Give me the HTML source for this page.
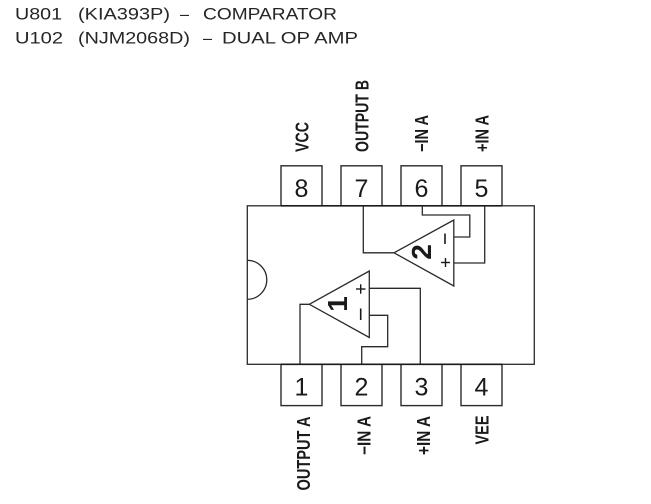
<!DOCTYPE html>
<html>
<head>
<meta charset="utf-8">
<style>
  html, body { margin: 0; padding: 0; background: #ffffff; }
  body { width: 651px; height: 504px; overflow: hidden; }
  svg { display: block; }
  .hdr { font-family: "Liberation Sans", "Noto Sans CJK KR", sans-serif; font-size: 17px; fill: #262626; }
  .lbl { font-family: "Liberation Sans", sans-serif; font-size: 18px; font-weight: bold; fill: #1a1a1a; }
  .num { font-family: "Liberation Sans", sans-serif; font-size: 25px; fill: #1a1a1a; text-anchor: middle; }
  .ln { fill: none; stroke: #2a2a2a; stroke-width: 1.3; }
  .box { fill: #fff; stroke: #2a2a2a; stroke-width: 1.4; }
</style>
</head>
<body>
<svg width="651" height="504" viewBox="0 0 651 504" xmlns="http://www.w3.org/2000/svg">
  <!-- Header -->
  <text class="hdr" x="15" y="19.3" textLength="47" lengthAdjust="spacingAndGlyphs">U801</text>
  <text class="hdr" x="78" y="19.3" textLength="92" lengthAdjust="spacingAndGlyphs">(KIA393P)</text>
  <text class="hdr" x="180" y="19.3" textLength="9" lengthAdjust="spacingAndGlyphs">–</text>
  <text class="hdr" x="203" y="19.3" textLength="134" lengthAdjust="spacingAndGlyphs">COMPARATOR</text>

  <text class="hdr" x="15" y="43.4" textLength="48" lengthAdjust="spacingAndGlyphs">U102</text>
  <text class="hdr" x="78" y="43.4" textLength="112" lengthAdjust="spacingAndGlyphs">(NJM2068D)</text>
  <text class="hdr" x="203" y="43.4" textLength="9" lengthAdjust="spacingAndGlyphs">–</text>
  <text class="hdr" x="222" y="43.4" textLength="136" lengthAdjust="spacingAndGlyphs">DUAL OP AMP</text>

  <!-- IC body -->
  <rect class="ln" x="247.3" y="205.8" width="287" height="158.5"/>
  <!-- notch -->
  <path class="ln" d="M247.3,260.3 A19.5,19.5 0 0 1 247.3,299.3"/>

  <!-- top pin boxes -->
  <rect class="box" x="281" y="165.8" width="41" height="40"/>
  <rect class="box" x="341" y="165.8" width="41" height="40"/>
  <rect class="box" x="401" y="165.8" width="41" height="40"/>
  <rect class="box" x="461" y="165.8" width="41" height="40"/>
  <!-- bottom pin boxes -->
  <rect class="box" x="281" y="364.3" width="41" height="41.3"/>
  <rect class="box" x="341" y="364.3" width="41" height="41.3"/>
  <rect class="box" x="401" y="364.3" width="41" height="41.3"/>
  <rect class="box" x="461" y="364.3" width="41" height="41.3"/>
  <!-- thicker edges where boxes meet body -->
  <line x1="281" y1="205.8" x2="502" y2="205.8" stroke="#1a1a1a" stroke-width="1.6"/>
  <line x1="281" y1="364.3" x2="502" y2="364.3" stroke="#1a1a1a" stroke-width="1.6"/>

  <!-- pin numbers -->
  <text class="num" x="301.5" y="197">8</text>
  <text class="num" x="361.5" y="197">7</text>
  <text class="num" x="421.5" y="197">6</text>
  <text class="num" x="481.5" y="197">5</text>
  <text class="num" x="301.5" y="395.5">1</text>
  <text class="num" x="361.5" y="395.5">2</text>
  <text class="num" x="421.5" y="395.5">3</text>
  <text class="num" x="481.5" y="395.5">4</text>

  <!-- top labels (rotated) -->
  <text class="lbl" transform="translate(308.5,152) rotate(-90)" textLength="30" lengthAdjust="spacingAndGlyphs">VCC</text>
  <text class="lbl" transform="translate(368.5,152) rotate(-90)" textLength="72" lengthAdjust="spacingAndGlyphs">OUTPUT B</text>
  <text class="lbl" transform="translate(428,152) rotate(-90)" textLength="37" lengthAdjust="spacingAndGlyphs">−IN A</text>
  <text class="lbl" transform="translate(488.5,152) rotate(-90)" textLength="37" lengthAdjust="spacingAndGlyphs">+IN A</text>

  <!-- bottom labels (rotated) -->
  <text class="lbl" transform="translate(310,490.5) rotate(-90)" textLength="74" lengthAdjust="spacingAndGlyphs">OUTPUT A</text>
  <text class="lbl" transform="translate(370.5,455) rotate(-90)" textLength="39" lengthAdjust="spacingAndGlyphs">−IN A</text>
  <text class="lbl" transform="translate(430,455) rotate(-90)" textLength="39" lengthAdjust="spacingAndGlyphs">+IN A</text>
  <text class="lbl" transform="translate(488.5,444.5) rotate(-90)" textLength="29" lengthAdjust="spacingAndGlyphs">VEE</text>

  <!-- Op amp 2 -->
  <polygon class="ln" points="394,252.8 453.8,220 453.8,286"/>
  <polyline class="ln" points="363.3,205.8 363.3,252.8 394,252.8"/>
  <polyline class="ln" points="453.8,237 469.8,237 469.8,215 422.3,215 422.3,205.8"/>
  <polyline class="ln" points="453.8,263 484.7,263 484.7,205.8"/>
  <!-- minus (rotated) -->
  <line x1="445" y1="233.5" x2="445" y2="244" stroke="#1a1a1a" stroke-width="1.6"/>
  <!-- plus -->
  <line x1="441" y1="262.5" x2="450" y2="262.5" stroke="#1a1a1a" stroke-width="1.4"/>
  <line x1="445.5" y1="258" x2="445.5" y2="267" stroke="#1a1a1a" stroke-width="1.4"/>
  <text transform="translate(421.5,252) rotate(-90)" text-anchor="middle" dominant-baseline="central" font-family="Liberation Sans, sans-serif" font-size="28" font-weight="bold" fill="#1a1a1a">2</text>

  <!-- Op amp 1 -->
  <polygon class="ln" points="309.3,304.3 369.3,271 369.3,337.5"/>
  <polyline class="ln" points="309.3,304.3 300,304.3 300,364.3"/>
  <polyline class="ln" points="369.3,288.3 420.3,288.3 420.3,364.3"/>
  <polyline class="ln" points="369.3,315.3 387.7,315.3 387.7,346.7 361.7,346.7 361.7,364.3"/>
  <!-- plus -->
  <line x1="356" y1="289" x2="365.5" y2="289" stroke="#1a1a1a" stroke-width="1.4"/>
  <line x1="360.7" y1="284.3" x2="360.7" y2="293.7" stroke="#1a1a1a" stroke-width="1.4"/>
  <!-- minus (rotated) -->
  <line x1="360.7" y1="308.5" x2="360.7" y2="320" stroke="#1a1a1a" stroke-width="1.6"/>
  <text transform="translate(337.5,304) rotate(-90)" text-anchor="middle" dominant-baseline="central" font-family="Liberation Sans, sans-serif" font-size="28" font-weight="bold" fill="#1a1a1a">1</text>
</svg>
</body>
</html>
